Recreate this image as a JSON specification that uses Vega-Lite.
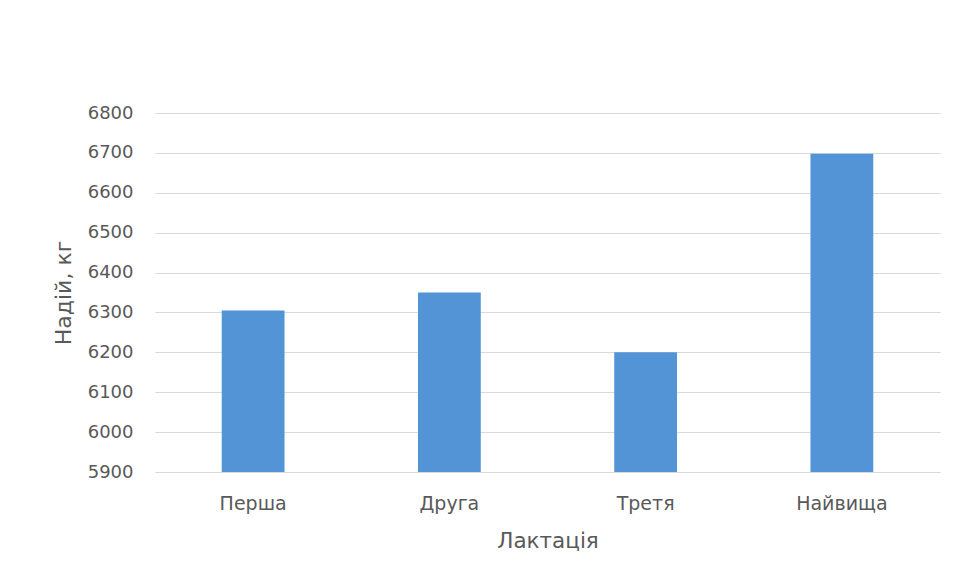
{
  "$schema": "https://vega.github.io/schema/vega-lite/v6.json",
  "autosize": {"type": "none"},
  "width": 785,
  "height": 359,
  "padding": {"left": 155, "top": 113, "right": 15, "bottom": 113},
  "background": "white",
  "data": {
    "values": [
      {"lactation": "Перша", "yield": 6305},
      {"lactation": "Друга", "yield": 6350},
      {"lactation": "Третя", "yield": 6200},
      {"lactation": "Найвища", "yield": 6698}
    ]
  },
  "mark": {"type": "bar", "color": "#5394d6"},
  "encoding": {
    "x": {
      "field": "lactation",
      "type": "nominal",
      "sort": null,
      "title": "Лактація",
      "scale": {"paddingInner": 0.68, "paddingOuter": 0.34},
      "axis": {
        "labelAngle": 0,
        "ticks": false,
        "domain": false,
        "labelPadding": 22,
        "titlePadding": 17,
        "labelFontSize": 19,
        "titleFontSize": 21.5,
        "titleFontWeight": "normal"
      }
    },
    "y": {
      "field": "yield",
      "type": "quantitative",
      "title": "Надій, кг",
      "scale": {"domain": [5900, 6800], "nice": false, "zero": false},
      "axis": {
        "values": [5900, 6000, 6100, 6200, 6300, 6400, 6500, 6600, 6700, 6800],
        "format": "d",
        "ticks": false,
        "domain": false,
        "labelPadding": 22,
        "titlePadding": 12,
        "labelFontSize": 18,
        "titleFontSize": 22,
        "titleFontWeight": "normal"
      }
    },
    "y2": {"datum": 5900}
  },
  "config": {
    "view": {"stroke": null},
    "font": "DejaVu Sans",
    "axis": {
      "labelColor": "#595959",
      "titleColor": "#595959",
      "gridColor": "#d9d9d9",
      "gridWidth": 1.2,
      "labelFont": "DejaVu Sans",
      "titleFont": "DejaVu Sans"
    }
  }
}
